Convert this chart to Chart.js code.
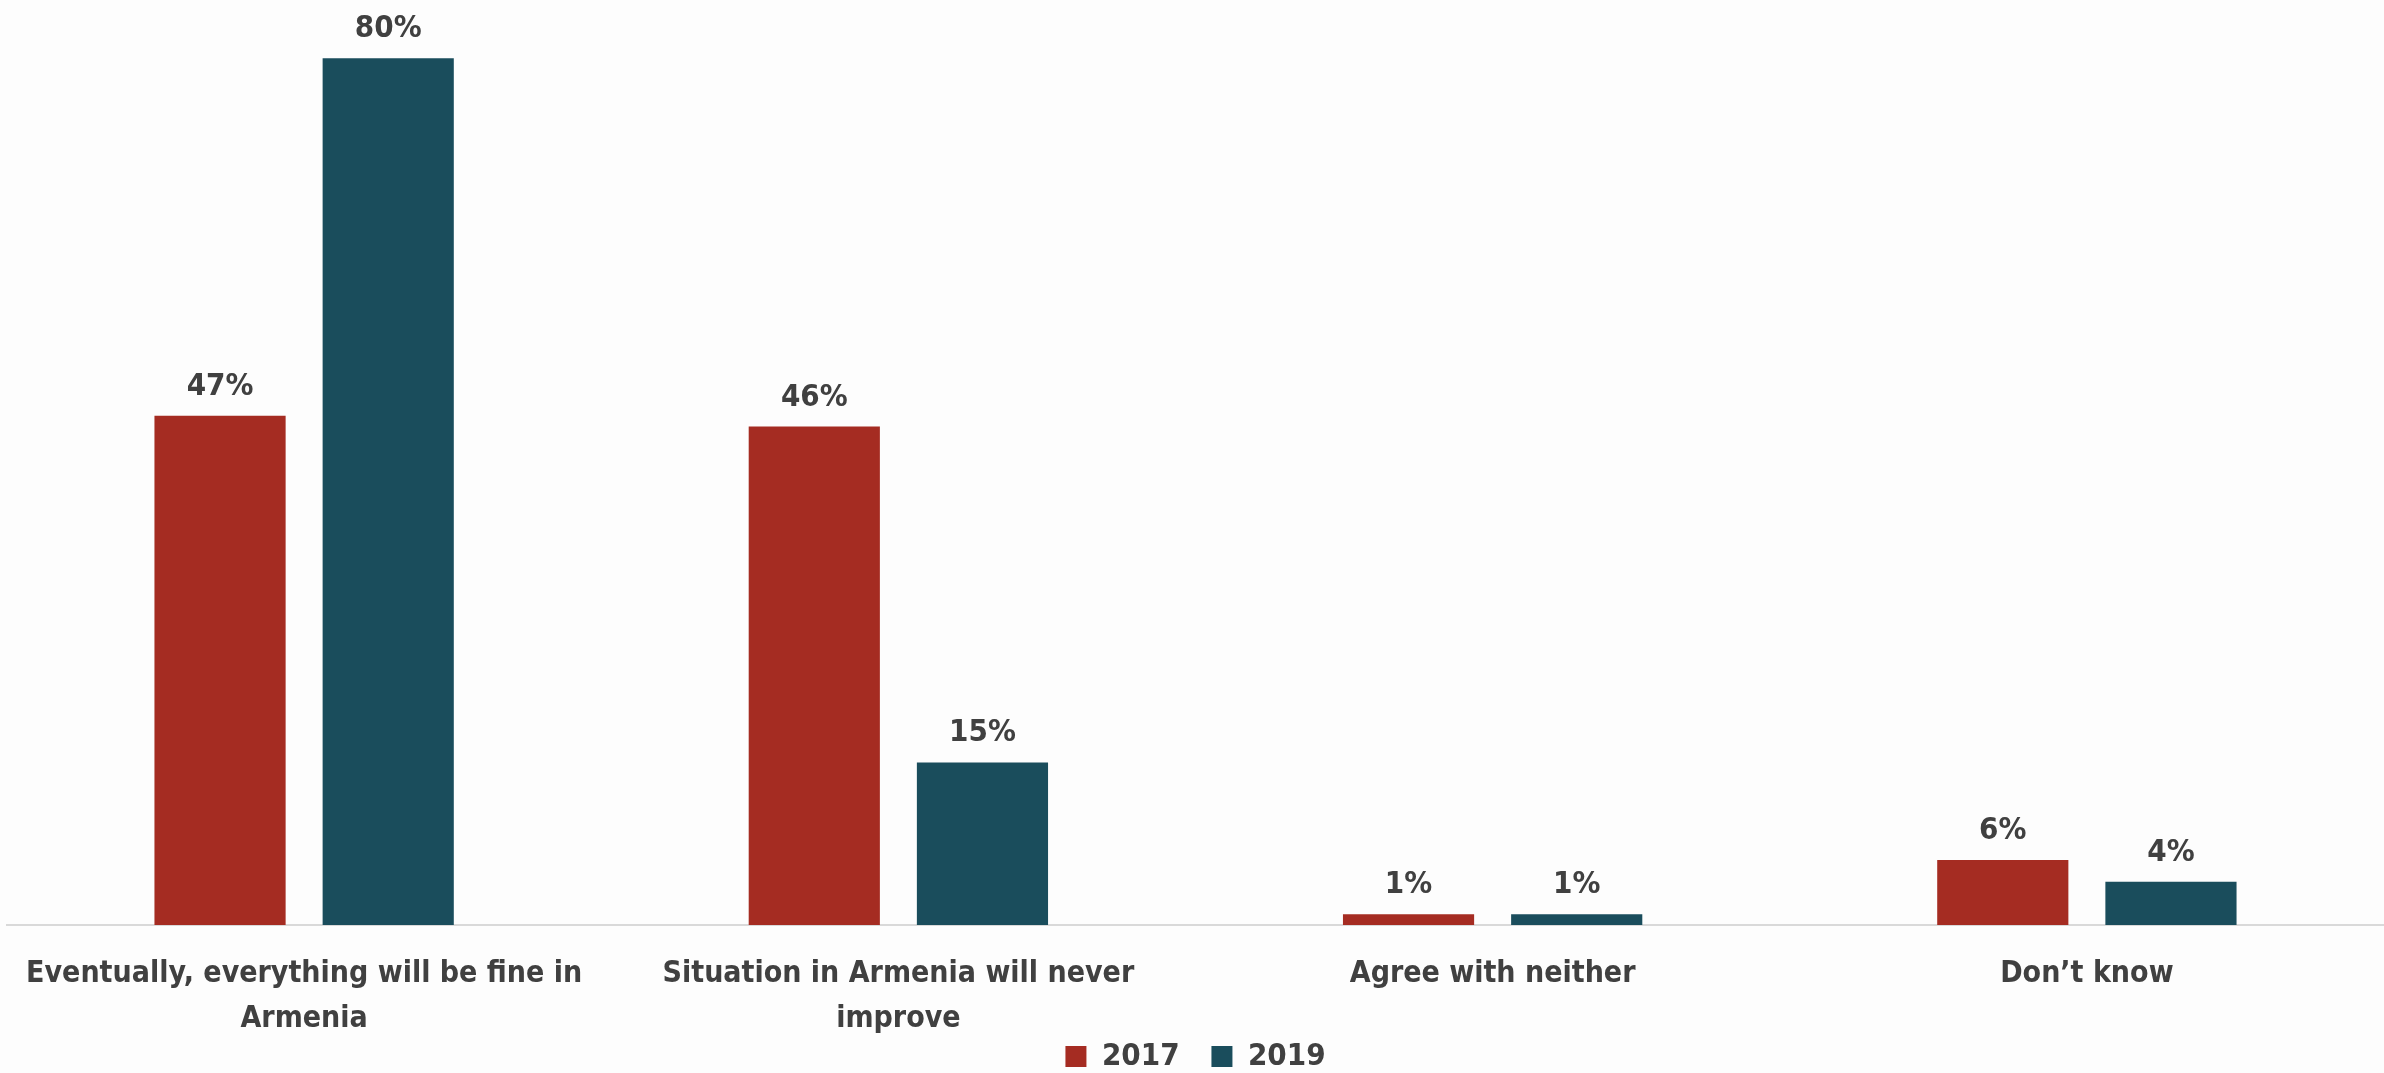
<!DOCTYPE html>
<html>
<head>
<meta charset="utf-8">
<script src="https://cdn.jsdelivr.net/npm/chart.js@4.4.1/dist/chart.umd.min.js"></script>
<style>
  html, body { margin: 0; padding: 0; background: #fdfdfd; }
  #wrap { width: 2384px; height: 1073px; }
</style>
</head>
<body>
<div id="wrap"><canvas id="barChart" width="2384" height="1073"></canvas></div>
<script>
const categories = [
  ["Eventually, everything will be fine in", "Armenia"],
  ["Situation in Armenia will never", "improve"],
  "Agree with neither",
  "Don\u2019t know"
];
const seriesNames = ["2017", "2019"];
const values2017 = [47, 46, 1, 6];
const values2019 = [80, 15, 1, 4];

const FONT = "'DejaVu Sans Condensed', 'Liberation Sans', sans-serif";
const TEXT = "#404040";

// draw the % labels above each bar
const barLabels = {
  id: "barLabels",
  afterDatasetsDraw(chart) {
    const ctx = chart.ctx;
    ctx.save();
    ctx.font = "bold 31px " + FONT;
    ctx.fillStyle = TEXT;
    ctx.textAlign = "center";
    ctx.textBaseline = "alphabetic";
    chart.data.datasets.forEach((ds, i) => {
      chart.getDatasetMeta(i).data.forEach((bar, j) => {
        ctx.fillText(ds.data[j] + "%", bar.x, bar.y - 21);
      });
    });
    ctx.restore();
  }
};

new Chart(document.getElementById("barChart"), {
  type: "bar",
  data: {
    labels: categories,
    datasets: [
      { label: seriesNames[0], data: values2017, backgroundColor: "#a52c22" },
      { label: seriesNames[1], data: values2019, backgroundColor: "#1a4d5c" }
    ]
  },
  options: {
    responsive: false,
    animation: false,
    categoryPercentage: 0.566,
    barPercentage: 0.78,
    layout: { padding: { top: 4, left: 7, right: 0, bottom: 0 } },
    plugins: {
      legend: {
        position: "bottom",
        maxHeight: 36,
        labels: {
          boxWidth: 21,
          boxHeight: 21,
          padding: 4,
          color: TEXT,
          font: { family: FONT, size: 31, weight: "bold" },
          generateLabels(chart) {
            // wider gap between the two legend entries
            const items = Chart.defaults.plugins.legend.labels.generateLabels(chart);
            items.forEach((it, i) => {
              if (i < items.length - 1) it.text += "\u2002\u2002";
            });
            return items;
          }
        }
      },
      tooltip: { enabled: false }
    },
    scales: {
      x: {
        grid: { display: false },
        border: { color: "#d9d9d9", width: 2 },
        afterFit(scale) {
          // let the long first label overhang like the original
          scale.paddingLeft = 0;
          scale.paddingRight = 0;
          scale.height -= 24;
        },
        ticks: {
          color: TEXT,
          padding: 19,
          autoSkip: false,
          maxRotation: 0,
          font: { family: FONT, size: 30, weight: "bold", lineHeight: 1.5 }
        }
      },
      y: {
        display: false,
        min: 0,
        max: 85
      }
    }
  },
  plugins: [barLabels]
});
</script>
</body>
</html>
